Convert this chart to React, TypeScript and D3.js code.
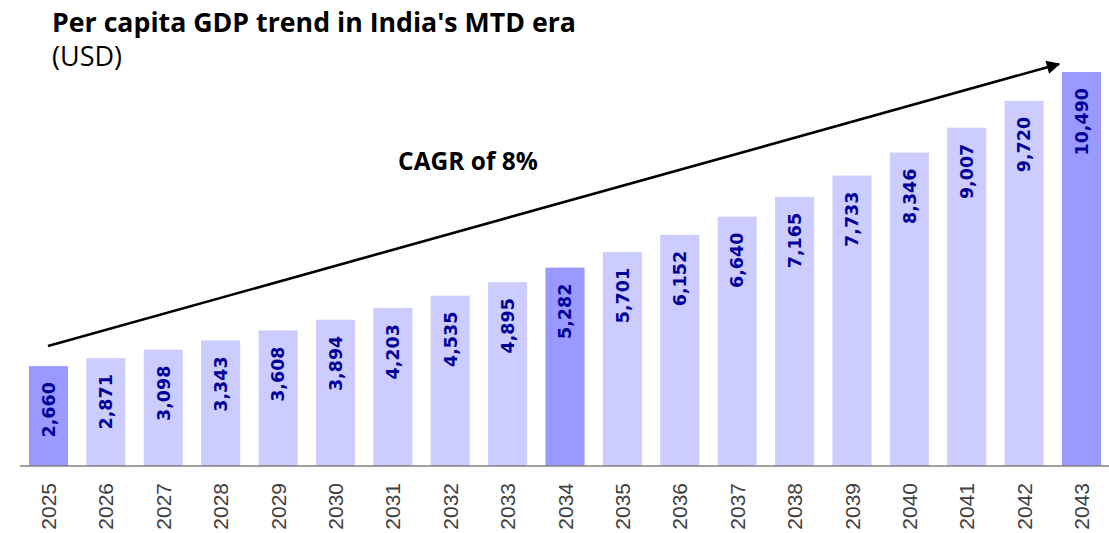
import React from "react";
import * as d3 from "d3";

const years = ["2025","2026","2027","2028","2029","2030","2031","2032","2033","2034","2035","2036","2037","2038","2039","2040","2041","2042","2043"];
const values = [2660,2871,3098,3343,3608,3894,4203,4535,4895,5282,5701,6152,6640,7165,7733,8346,9007,9720,10490];
const highlighted = ["2025","2034","2043"];
const title = "Per capita GDP trend in India's MTD era";
const subtitle = "(USD)";
const cagrLabel = "CAGR of 8%";

const W = 1109;
const H = 533;

export default function App() {
  const x = d3.scaleBand<string>().domain(years).range([19.8, 1110.2]).paddingInner(0.32).paddingOuter(0.16);
  const y = d3.scaleLinear().domain([0, 10490]).range([466, 72]);
  const fmt = d3.format(",");
  const baseY = y(0);

  return (
    <svg width={W} height={H} style={{ position: "absolute", left: 0, top: 0 }}>
      <defs>
        <marker id="ah" viewBox="0 0 10 10" refX="9" refY="5" markerWidth="6.5" markerHeight="5.2" markerUnits="strokeWidth" orient="auto">
          <path d="M0,0 L10,5 L0,10 z" fill="#000" />
        </marker>
      </defs>
      <text x={52} y={32} fontFamily="'Open Sans', sans-serif" fontWeight="bold" fontSize={26.5} textLength={524} lengthAdjust="spacingAndGlyphs" fill="#000">{title}</text>
      <text x={52} y={66} fontFamily="'Open Sans', sans-serif" fontSize={27} fill="#000">{subtitle}</text>

      {years.map((yr, i) => {
        const bx = x(yr)!;
        const by = y(values[i]);
        return (
          <rect key={yr} x={bx} y={by} width={x.bandwidth()} height={baseY - by}
            fill={highlighted.includes(yr) ? "#9999FF" : "#CCCCFF"} />
        );
      })}

      {years.map((yr, i) => {
        const cx = x(yr)! + x.bandwidth() / 2;
        const ty = y(values[i]) + 16;
        return (
          <text key={"l" + yr} transform={`translate(${cx},${ty}) rotate(-90)`} textAnchor="end" dy="0.36em"
            fontFamily="'DejaVu Sans', sans-serif" fontWeight="bold" fontSize={17.5} fill="#000099">{fmt(values[i])}</text>
        );
      })}

      <line x1={20} x2={1109} y1={baseY} y2={baseY} stroke="#808080" strokeWidth={1.5} />

      {years.map((yr) => {
        const cx = x(yr)! + x.bandwidth() / 2;
        return (
          <text key={"t" + yr} transform={`translate(${cx},${483}) rotate(-90)`} textAnchor="end" dy="0.36em"
            fontFamily="'Liberation Sans', Arial, sans-serif" fontSize={21} fill="#404040">{yr}</text>
        );
      })}

      <line x1={48} y1={346} x2={1059} y2={64} stroke="#000" strokeWidth={2.6} markerEnd="url(#ah)" />
      <text x={468} y={170} textAnchor="middle" fontFamily="'Open Sans', sans-serif" fontWeight="bold" fontSize={24.5} fill="#000">{cagrLabel}</text>
    </svg>
  );
}
